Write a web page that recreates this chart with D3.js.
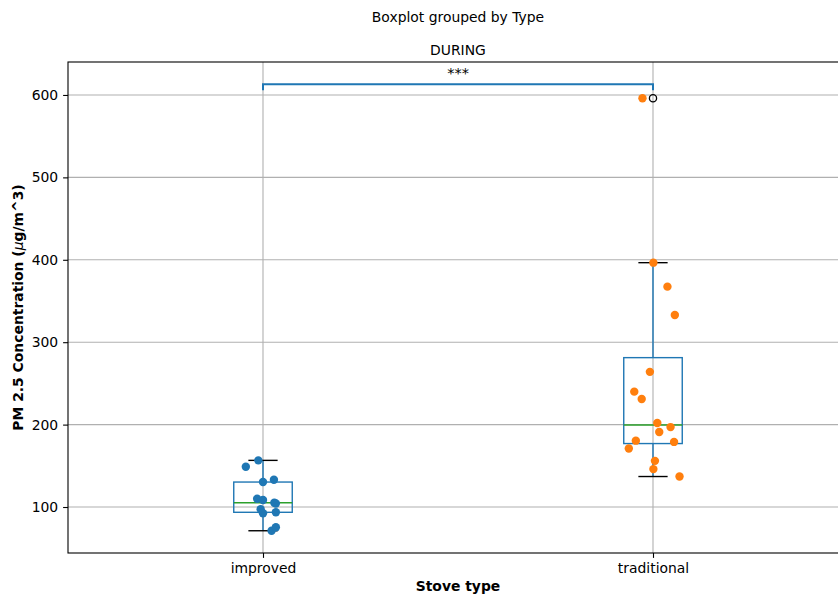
<!DOCTYPE html>
<html>
<head>
<meta charset="utf-8">
<script src="https://cdn.jsdelivr.net/npm/d3@7"></script>
<style>
  body { margin: 0; background: #fff; }
  text { font-family: "DejaVu Sans", sans-serif; fill: #000; }
</style>
</head>
<body>
<svg id="chart" width="838" height="594"></svg>
<script>
// values
const categories = ['improved', 'traditional'];
const improvedValues = [156.6, 148.9, 130.3, 133.1, 110, 108.5, 105.2, 97.2, 92.4, 93.6, 71.2, 75.4, 104.3];
const improvedJitter = [-0.012, -0.044, 0, 0.028, -0.015, 0, 0.029, -0.006, 0, 0.033, 0.022, 0.033, 0.033];
const traditionalValues = [264, 240, 231, 202, 197, 191, 180.5, 179, 171, 156, 146, 137, 396.5, 367.4, 333, 596];
const traditionalJitter = [-0.008, -0.048, -0.029, 0.011, 0.045, 0.016, -0.044, 0.054, -0.062, 0.005, 0.001, 0.068, 0.001, 0.037, 0.056, -0.027];
const yTicks = [100, 200, 300, 400, 500, 600];
const pointColors = ['#1f77b4', '#ff7f0e'];
const bracketY = 613;

const svg = d3.select('#chart');
const plotL = 68, plotT = 62, plotR = 848, plotB = 553;
const fs = '13.9px';

const x = d3.scaleLinear().domain([0.5, 2.5]).range([plotL, plotR]);
const y = d3.scaleLinear().domain([44.2, 640]).range([plotB, plotT]);

// titles
svg.append('text').attr('x', (plotL + plotR) / 2).attr('y', 22)
  .attr('text-anchor', 'middle').style('font-size', fs).text('Boxplot grouped by Type');
svg.append('text').attr('x', (plotL + plotR) / 2).attr('y', 55)
  .attr('text-anchor', 'middle').style('font-size', fs).text('DURING');

// grid
const grid = svg.append('g').attr('stroke', '#b0b0b0').attr('stroke-width', 1.1);
grid.selectAll('.gy').data(yTicks).enter().append('line')
  .attr('x1', plotL).attr('x2', plotR).attr('y1', d => y(d)).attr('y2', d => y(d));
grid.selectAll('.gx').data(categories).enter().append('line')
  .attr('y1', plotT).attr('y2', plotB).attr('x1', (d, i) => x(i + 1)).attr('x2', (d, i) => x(i + 1));

// axes
const yAxis = svg.append('g').attr('transform', 'translate(' + plotL + ',0)')
  .call(d3.axisLeft(y).tickValues(yTicks).tickSize(4.9).tickPadding(4.9).tickFormat(d3.format('d')));
yAxis.select('.domain').remove();
yAxis.selectAll('text').style('font-size', fs).attr('fill', '#000');
yAxis.selectAll('line').attr('stroke', '#000').attr('stroke-width', 1.1);

const xAxis = svg.append('g').attr('transform', 'translate(0,' + plotB + ')')
  .call(d3.axisBottom(x).tickValues([1, 2]).tickSize(4.9).tickPadding(4.9).tickFormat(d => categories[d - 1]));
xAxis.select('.domain').remove();
xAxis.selectAll('text').style('font-size', fs).attr('fill', '#000');
xAxis.selectAll('line').attr('stroke', '#000').attr('stroke-width', 1.1);

// spines
svg.append('rect').attr('x', plotL).attr('y', plotT).attr('width', plotR - plotL).attr('height', plotB - plotT)
  .attr('fill', 'none').attr('stroke', '#000').attr('stroke-width', 1.1);

// axis labels
svg.append('text').attr('x', (plotL + plotR) / 2).attr('y', 591)
  .attr('text-anchor', 'middle').style('font-size', fs).style('font-weight', 'bold').text('Stove type');
const yl = svg.append('text').attr('transform', 'translate(23,' + ((plotT + plotB) / 2) + ') rotate(-90)')
  .attr('text-anchor', 'middle').style('font-size', fs).style('font-weight', 'bold');
yl.append('tspan').text('PM 2.5 Concentration (');
yl.append('tspan').style('font-style', 'italic').style('font-weight', 'normal').text('\u03bc');
yl.append('tspan').text('g/m^3)');

// boxes
const groups = [improvedValues, traditionalValues];
const jitters = [improvedJitter, traditionalJitter];
const boxW = 0.15;
groups.forEach((vals, i) => {
  const s = vals.slice().sort(d3.ascending);
  const q1 = d3.quantile(s, 0.25), med = d3.quantile(s, 0.5), q3 = d3.quantile(s, 0.75);
  const iqr = q3 - q1;
  const lo = d3.min(s.filter(v => v >= q1 - 1.5 * iqr));
  const hi = d3.max(s.filter(v => v <= q3 + 1.5 * iqr));
  const fliers = s.filter(v => v < lo || v > hi);
  const c = i + 1;
  const g = svg.append('g');
  g.append('rect').attr('x', x(c - boxW / 2)).attr('width', x(c + boxW / 2) - x(c - boxW / 2))
    .attr('y', y(q3)).attr('height', y(q1) - y(q3))
    .attr('fill', 'none').attr('stroke', '#1f77b4').attr('stroke-width', 1.4);
  g.append('line').attr('x1', x(c)).attr('x2', x(c)).attr('y1', y(q3)).attr('y2', y(hi))
    .attr('stroke', '#1f77b4').attr('stroke-width', 1.4);
  g.append('line').attr('x1', x(c)).attr('x2', x(c)).attr('y1', y(q1)).attr('y2', y(lo))
    .attr('stroke', '#1f77b4').attr('stroke-width', 1.4);
  [lo, hi].forEach(v => {
    g.append('line').attr('x1', x(c - boxW / 4)).attr('x2', x(c + boxW / 4)).attr('y1', y(v)).attr('y2', y(v))
      .attr('stroke', '#000').attr('stroke-width', 1.4);
  });
  g.append('line').attr('x1', x(c - boxW / 2)).attr('x2', x(c + boxW / 2)).attr('y1', y(med)).attr('y2', y(med))
    .attr('stroke', '#2ca02c').attr('stroke-width', 1.4);
  g.selectAll('.flier').data(fliers).enter().append('circle')
    .attr('cx', x(c)).attr('cy', d => y(d)).attr('r', 3.6)
    .attr('fill', 'none').attr('stroke', '#000').attr('stroke-width', 1.3);
});

// strip points
groups.forEach((vals, i) => {
  svg.append('g').selectAll('circle').data(vals).enter().append('circle')
    .attr('cx', (d, j) => x(i + 1 + jitters[i][j]))
    .attr('cy', d => y(d))
    .attr('r', 4.2)
    .attr('fill', pointColors[i]);
});

// significance bracket
const by = y(bracketY);
svg.append('path')
  .attr('d', 'M' + x(1) + ',' + (by + 6) + 'V' + by + 'H' + x(2) + 'V' + (by + 6))
  .attr('fill', 'none').attr('stroke', '#1f77b4').attr('stroke-width', 2);
svg.append('text').attr('x', (x(1) + x(2)) / 2).attr('y', by - 6)
  .attr('text-anchor', 'middle').style('font-size', '14.5px').text('***');
</script>
</body>
</html>
